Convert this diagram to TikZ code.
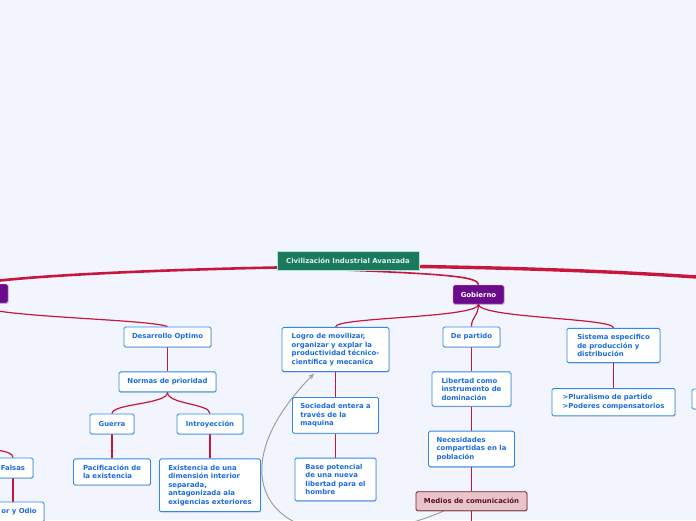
\documentclass[tikz,border=0pt]{standalone}
\usepackage{fontspec}
\setmainfont{DejaVu Sans}
\usepackage{xcolor}
\definecolor{bgcolor}{HTML}{F2F5FD}
\definecolor{rootgreen}{HTML}{1B7A5E}
\definecolor{rootborder}{HTML}{A8E8D4}
\definecolor{roottext}{HTML}{DDF4EC}
\definecolor{mainpurple}{HTML}{6C0A8C}
\definecolor{topicblue}{HTML}{3088E8}
\definecolor{textblue}{HTML}{1A6CE0}
\definecolor{linkred}{HTML}{C8163C}
\definecolor{mediafill}{HTML}{E8C5CA}
\definecolor{mediadraw}{HTML}{7C1C2C}
\definecolor{mediatext}{HTML}{5C1222}
\colorlet{arrowgray}{gray!75}
\usepackage{tikz}
\usetikzlibrary{positioning, shadows, backgrounds, arrows.meta}
\tikzset{
    mapfont/.style={ font=\fontsize{6.9}{8.5}\selectfont\bfseries },
    boxshadow/.style={ drop shadow={shadow xshift=0.5pt, shadow yshift=-0.8pt, fill=black, opacity=0.18} },
    % Central idea
    rootbox/.style={ mapfont, rectangle, fill=rootgreen, draw=rootborder, text=roottext, minimum height=19pt },
    % Main topics
    mainbox/.style={ mapfont, rectangle, rounded corners=1.5pt, fill=mainpurple, draw=white!75!mainpurple, text=white, minimum height=19pt, boxshadow },
    % Subtopics
    topic/.style={ mapfont, rectangle, rounded corners=1.5pt, fill=white, draw=topicblue, line width=0.9pt, text=textblue, align=left, inner ysep=6pt, minimum height=20pt, boxshadow },
    media/.style={ topic, fill=mediafill, draw=mediadraw, text=mediatext, minimum height=19pt },
    % Connectors
    link/.style={ draw=linkred, line width=1.2pt },
    mainlink/.style={ link, line width=2.6pt },
    backlink/.style={ -{Stealth[length=6pt, width=5pt]}, draw=arrowgray, line width=1pt },
}

\begin{document}
\begin{tikzpicture}[x=1pt, y=1pt, node distance=24pt]
    \begin{scope}[on background layer]
        \fill[bgcolor] (0,0) rectangle (696,-520);
    \end{scope}
    \useasboundingbox (0,0) rectangle (696,-520);

    % Center and main topics
    \node[rootbox, minimum width=142pt] (root) at (348,-260.5) {Civilización Industrial Avanzada};
    \node[mainbox, minimum width=66pt] (leftmain) at (-25,-293.5) {};
    \node[mainbox, minimum width=51pt] (gobierno) at (478.5,-294.5) {Gobierno};
    \coordinate (rightmain) at (760,-282);

    % Left branch
    \node[topic, minimum width=87pt] (desarrollo) at (167.5,-337) {Desarrollo Optimo};
    \node[topic, minimum width=97pt, below=of desarrollo] (normas) {Normas de prioridad};
    \node[topic, minimum width=44pt] (guerra) at (112,-424) {Guerra};
    \node[topic, minimum width=66pt] (introyeccion) at (210,-424) {Introyección};
    \node[topic, minimum width=77pt, below=of guerra] (pacificacion) {Pacificación de\\la existencia};
    \node[topic, minimum width=101pt, below=of introyeccion] (existencia) {Existencia de una\\dimensión interior\\separada,\\antagonizada ala\\exigencias exteriores};
    \node[topic, minimum width=40pt] (falsas) at (13,-468) {Falsas};
    \node[topic, minimum width=50pt] (odio) at (19,-512) {or y Odio};
    \coordinate (falsasparent) at (-40,-447);

    % Gobierno
    \node[topic, minimum width=107pt] (logro) at (335.5,-349.5) {Logro de movilizar,\\organizar y explar la\\productividad técnico-\\científica y mecanica};
    \node[topic, minimum width=86pt, below=25pt of logro] (sociedad) {Sociedad entera a\\través de la\\maquina};
    \node[topic, minimum width=81pt, below=of sociedad] (base) {Base potencial\\de una nueva\\libertad para el\\hombre};
    \node[topic, minimum width=57pt] (partido) at (471.5,-337) {De partido};
    \node[topic, minimum width=79pt, below=of partido] (libertad) {Libertad como\\instrumento de\\dominación};
    \node[topic, minimum width=86pt, below=of libertad] (necesidades) {Necesidades\\compartidas en la\\población};
    \node[media, minimum width=111pt, below=of necesidades] (medios) {Medios de comunicación};
    \coordinate[below=20pt of medios] (mediosnext);
    \node[topic, minimum width=93pt] (sistema) at (613.5,-345.5) {Sistema especifico\\de producción y\\distribución};
    \node[topic, minimum width=123pt, below=25pt of sistema] (pluralismo) {>Pluralismo de partido\\>Poderes compensatorios};
    \node[topic, minimum width=56pt] (rightcut) at (720,-399) {};

    \begin{scope}[on background layer]
        \draw[mainlink] ([yshift=-7pt] root.west) .. controls (150,-270) and (20,-276) .. (leftmain.north);
        \draw[mainlink, line width=3.4pt] ([yshift=-6pt] root.east) .. controls (520,-268) and (650,-272) .. (rightmain);
        \draw[link, line width=1.6pt] (root.south) .. controls +(100,-4) and +(0,8) .. (gobierno.north);

        \draw[link] (leftmain.south) .. controls +(0,-14) and +(-20,8) .. (desarrollo.north);
        \draw[link] (desarrollo) -- (normas);
        \draw[link] (normas.south) .. controls +(0,-12) and +(0,10) .. (guerra.north);
        \draw[link] (normas.south) .. controls +(0,-12) and +(0,10) .. (introyeccion.north);
        \draw[link] (guerra) -- (pacificacion);
        \draw[link] (introyeccion) -- (existencia);
        \draw[link] (falsasparent) .. controls (-10,-449) and (13,-450) .. (falsas.north);
        \draw[link] (falsas.south) -- (falsas.south |- odio.north);

        \draw[link] (gobierno.south) .. controls +(0,-14) and +(0,10) .. (logro.north);
        \draw[link] (gobierno.south) .. controls +(0,-12) and +(0,10) .. (partido.north);
        \draw[link] (gobierno.south) .. controls +(0,-14) and +(0,10) .. (sistema.north);
        \draw[link] (logro) -- (sociedad);
        \draw[link] (sociedad) -- (base);
        \draw[link] (partido) -- (libertad);
        \draw[link] (libertad) -- (necesidades);
        \draw[link] (necesidades) -- (medios);
        \draw[link] (medios) -- (mediosnext);
        \draw[link] (sistema) -- (pluralismo);

        \draw[backlink] ([xshift=-28pt] medios.south) .. controls (290,-575) and (200,-490) .. ([xshift=-21.5pt, yshift=-1.5pt] logro.south);
    \end{scope}
\end{tikzpicture}
\end{document}
